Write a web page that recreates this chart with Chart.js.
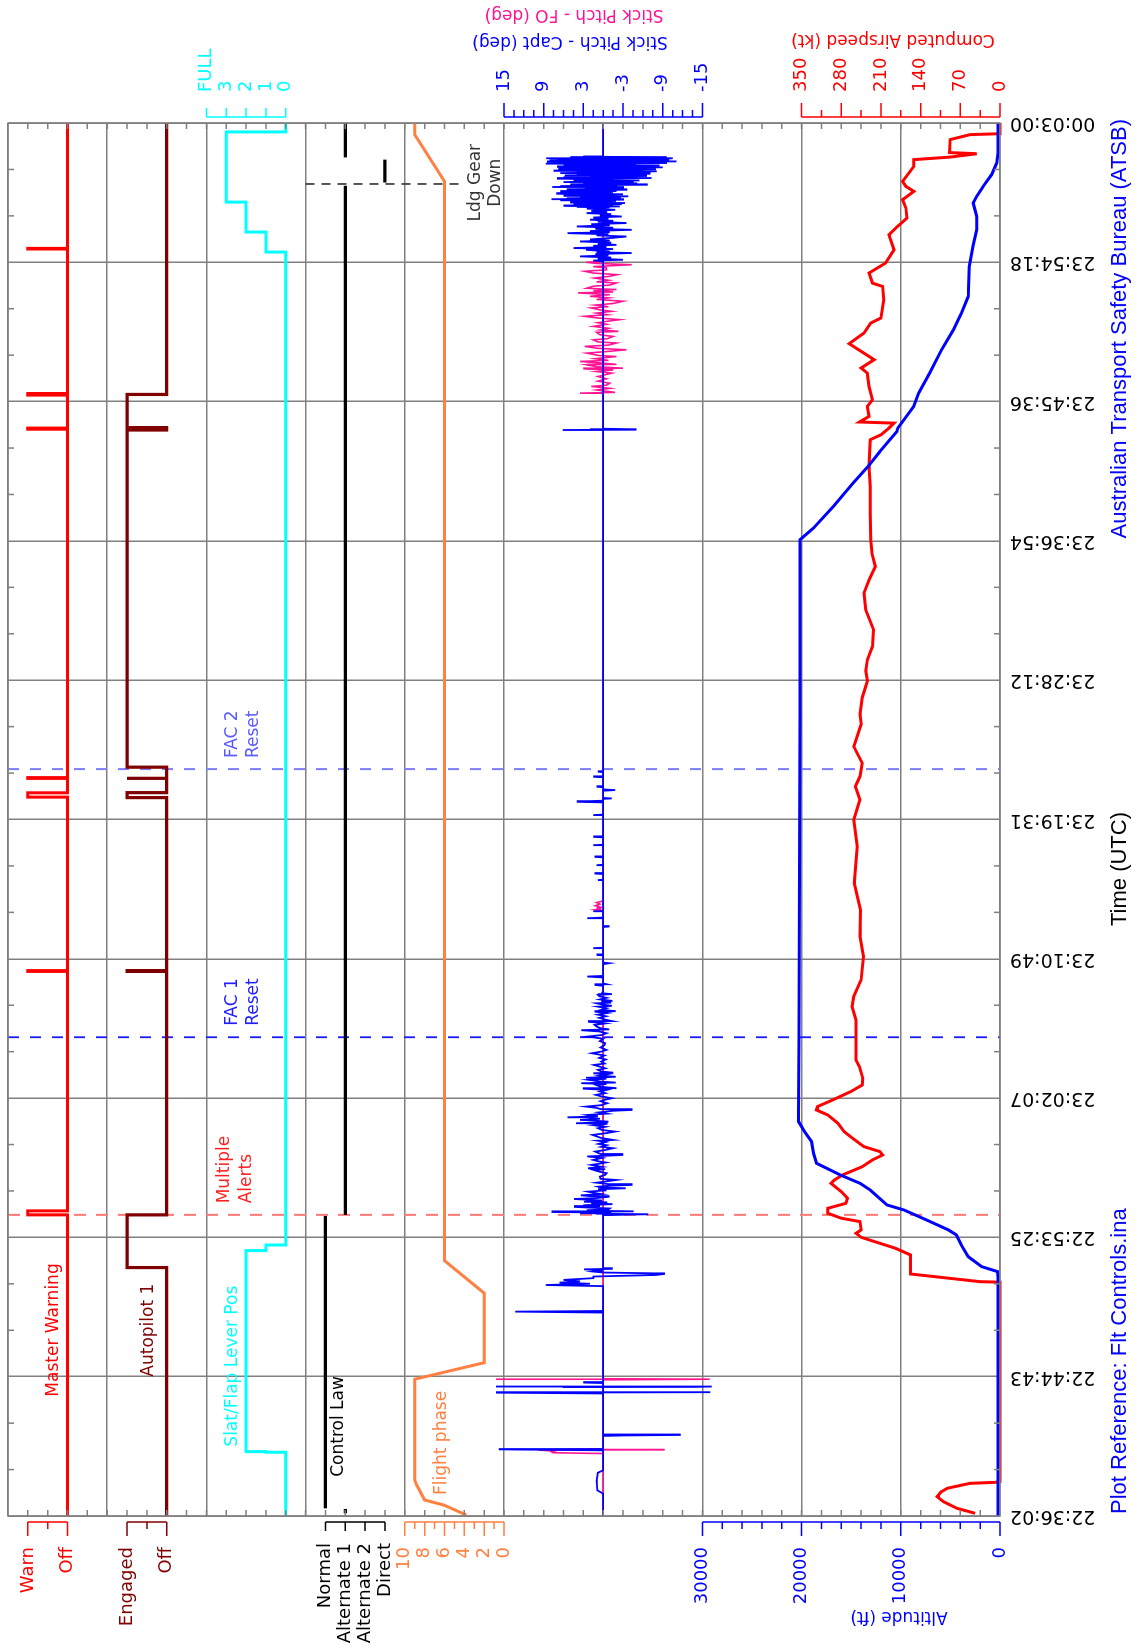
<!DOCTYPE html>
<html>
<head>
<meta charset="utf-8">
<title>Flt Controls</title>
<script src="https://cdn.jsdelivr.net/npm/chart.js@4.4.1/dist/chart.umd.min.js"></script>
<style>
  html, body { margin: 0; padding: 0; background: #fff; }
  body { width: 1138px; height: 1650px; overflow: hidden; position: relative; }
  /* the plot is laid out landscape and turned a quarter turn, like the printed page */
  #wrap { position: absolute; left: 0; top: 0; width: 1650px; height: 1138px;
          transform-origin: 0 0; transform: translate(0, 1650px) rotate(-90deg); }
</style>
</head>
<body>
<div id="wrap"><canvas id="fdrChart"></canvas></div>
<script>
// time is in minutes after 22:36:02
var timeLabels = ['22:36:02', '22:44:43', '22:53:25', '23:02:07', '23:10:49', '23:19:31',
                  '23:28:12', '23:36:54', '23:45:36', '23:54:18', '00:03:00'];
var timeSpan = 86.967;

var mwLabels = ['Off', 'Warn'];
var apLabels = ['Off', 'Engaged'];
var lawLabels = ['Normal', 'Alternate 1', 'Alternate 2', 'Direct'];
var slatLabels = ['0', '1', '2', '3', 'FULL'];
var phaseTicks = [0, 2, 4, 6, 8, 10];
var altTicks = [0, 10000, 20000, 30000];
var stickTicks = [15, 9, 3, -3, -9, -15];
var speedTicks = [0, 70, 140, 210, 280, 350];

// event markers: multiple alerts, FAC 1 reset, FAC 2 reset, landing gear down
var eventTimes = [18.80, 29.89, 46.63, 83.16];

var masterWarning = [[0, 0], [18.80, 0], [18.80, 1], [19.05, 1], [19.05, 0], [34.0, 0], [34.0, 1], [34.05, 1], [34.05, 0],
  [44.88, 0], [44.88, 1], [45.15, 1], [45.15, 0], [46.05, 0], [46.05, 1], [46.1, 1], [46.1, 0],
  [67.85, 0], [67.85, 1], [67.92, 1], [67.92, 0], [69.98, 0], [69.98, 1], [70.08, 1], [70.08, 0],
  [79.1, 0], [79.1, 1], [79.14, 1], [79.14, 0], [86.967, 0]];

var autopilot1 = [[0, 0], [15.51, 0], [15.51, 1], [18.80, 1], [18.80, 0], [34.0, 0], [34.0, 1], [34.05, 1], [34.05, 0],
  [44.85, 0], [44.85, 1], [45.16, 1], [45.16, 0], [46.02, 0], [46.02, 1], [46.07, 1], [46.07, 0],
  [46.75, 0], [46.75, 1], [67.8, 1], [67.8, 0], [67.95, 0], [67.95, 1], [70.02, 1], [70.02, 0], [86.967, 0]];

var slatFlap = [[0, 0], [3.98, 0], [3.98, 1], [4.02, 1], [4.02, 2], [16.57, 2], [16.57, 1], [16.92, 1], [16.92, 0],
  [78.91, 0], [78.91, 1], [80.16, 1], [80.16, 2], [82.03, 2], [82.03, 3], [86.41, 3], [86.41, 0], [86.967, 0]];

var controlLaw = [[0.17, 1], [0.44, 1], [0.46, null], [0.48, 0], [18.73, 0], [18.76, null], [18.80, 1], [83.05, 1],
  [83.15, null], [83.25, 3], [84.68, 3], [84.75, null], [84.82, 1], [86.967, 1]];

var flightPhase = [[0.06, 3.8], [0.69, 6.1], [1.0, 8.0], [1.94, 8.8], [2.25, 9.0], [8.54, 9.0], [9.57, 2.0],
  [13.91, 2.0], [15.94, 6.0], [83.32, 6.0], [86.24, 9.0], [86.967, 9.0]];

var stickCapt = [[0, 0], [1.4, 0], [1.6, 0.9], [2.2, 1.0], [2.7, 0.8], [2.85, 0],
  [4.1, 0], [4.16, 15.8], [4.18, 0], [5.0, 0], [5.03, -3.5], [5.06, -11.6], [5.08, -3.5], [5.1, 0],
  [7.65, 0], [7.7, 16.2], [7.72, -16.2], [7.74, 0], [8.0, 0], [8.05, 6.1], [8.06, -13.9], [8.07, 16.2], [8.08, -16.4], [8.1, 0],
  [8.3, 0], [8.33, 3.0], [8.36, 0], [12.7, 0], [12.76, 13.3], [12.8, 0],
  [14.35, 0], [14.42, 8.7], [14.5, 2], [14.57, 6.6], [14.65, 3.5], [14.74, 6.0], [14.85, 1.5], [14.95, 1.5],
  [15.05, -8.0], [15.11, -9.2], [15.15, -8.0], [15.2, 0], [15.26, 1.5], [15.33, 0], [15.4, 2.9], [15.43, -1.3], [15.47, 0],
  [18.78, 0], [18.84, -6.8], [18.87, 1.0], [18.90, 3.5], [18.94, -1.2], [18.98, 7.8], [19.02, -4.6], [19.06, 1.5],
  [19.09, 2.5], [19.14, -0.8], [19.20, -1.0], [19.25, 2.0], [19.30, 4.4], [19.35, 0.5], [19.40, 3.0], [19.47, -1.4],
  [19.53, 1.8], [19.58, -0.6], [19.62, 2.9], [19.70, 0.2], [19.79, 4.4], [19.85, 1.0], [19.93, -0.8], [19.97, 2.0],
  [20.02, 3.4], [20.1, 0.3], [20.18, 1.5], [20.25, 2.3], [20.33, -0.5], [20.40, 0.8], [20.46, -3.4], [20.51, 0.4],
  [20.56, 0.8], [20.62, -1.0], [20.67, -4.3], [20.72, -0.8], [20.81, 1.0], [20.9, -0.6], [20.98, -2.0], [21.05, 0.4],
  [21.19, 0.5], [21.3, -0.3], [21.40, -0.5], [21.5, 0.6], [21.6, 1.4], [21.65, -0.3], [21.71, 2.3], [21.8, 0.2],
  [21.92, 1.8], [22.0, 0.5], [22.07, -0.4], [22.15, 0.8], [22.23, 1.5], [22.35, 0.2], [22.45, 2.4], [22.50, -0.8],
  [22.54, -2.9], [22.6, 0.4], [22.75, 1.2], [22.85, -0.3], [22.96, -1.5], [23.05, 0.3], [23.15, -0.5], [23.23, 0.7],
  [23.35, -0.4], [23.43, 0.8], [23.48, -1.5], [23.6, 0.3], [23.79, 1.6], [23.9, -0.4], [24.0, -1.8], [24.1, 0.2],
  [24.21, 0.8], [24.3, -0.3], [24.4, 1.5], [24.48, -0.5], [24.52, 4.1], [24.57, 0.5], [24.62, -0.8], [24.68, 1.2],
  [24.73, 3.5], [24.8, 0.5], [24.85, 2.0], [24.89, 5.4], [24.95, 0.8], [25.04, 2.3], [25.12, -0.5], [25.2, 0.6],
  [25.3, -1.5], [25.35, -4.3], [25.4, 0.4], [25.48, 1.0], [25.56, 2.6], [25.65, 0.3], [25.77, -0.6], [25.9, 0.4],
  [26.0, -0.4], [26.08, -1.3], [26.2, 0.3], [26.29, 1.1], [26.4, -0.3], [26.5, 0.5], [26.6, -0.5], [26.68, 3.1],
  [26.71, -2.0], [26.8, 0.4], [26.9, 1.0], [26.97, -0.5], [27.02, 3.3], [27.06, -1.9], [27.12, 0.4], [27.23, 2.2],
  [27.3, -0.5], [27.36, 2.6], [27.42, -1.9], [27.5, 0.5], [27.58, -0.6], [27.64, 1.5], [27.68, -1.5], [27.75, 0.3],
  [27.85, 0.8], [27.95, -0.3], [28.05, 0.5], [28.16, 1.4], [28.25, -0.2], [28.37, 0.3], [28.5, -0.4], [28.6, 0.6],
  [28.75, -0.2], [28.89, 1.7], [29.0, 0.2], [29.10, -0.5], [29.25, 0.4], [29.4, -0.2], [29.52, -0.3], [29.65, 0.5],
  [29.8, 0.0], [29.93, 2.4], [30.03, 0.2], [30.14, -0.5], [30.25, 0.6], [30.33, 3.3], [30.38, -0.9], [30.45, 0.4],
  [30.56, 1.0], [30.66, 1.3], [30.75, -0.3], [30.86, 2.3], [30.9, -1.3], [30.97, -0.5], [31.1, 0.6], [31.2, -0.4],
  [31.3, 0.8], [31.4, -0.6], [31.49, 1.3], [31.52, -1.9], [31.6, 0.3], [31.7, -0.5], [31.8, 0.8], [31.85, -1.3],
  [31.95, 0.4], [32.01, 1.0], [32.05, -1.2], [32.12, 0.3], [32.16, -1.4], [32.25, 0.5], [32.35, -0.5], [32.45, 0.6],
  [32.54, 0.8], [32.58, -1.3], [32.64, 0.2], [32.75, 0],
  [33.1, 0], [33.16, 1.3], [33.2, -0.5], [33.25, 0], [33.62, 0], [33.68, 2.4], [33.72, 0], [34.45, 0], [34.51, -0.9], [34.55, 0],
  [35.0, 0], [35.03, 1.0], [35.06, 0], [35.42, 0], [35.45, 1.5], [35.48, 0], [36.77, 0], [36.8, -0.8], [36.83, 0],
  [37.28, 0], [37.32, 2.4], [37.36, 0], [37.71, 0], [37.74, 1.5], [37.77, 0], [39.67, 0], [39.7, 0.8], [39.73, 0],
  [40.08, 0], [40.11, 1.3], [40.14, 0], [40.6, 0], [40.63, 1.0], [40.66, 0], [41.12, 0], [41.15, 1.3], [41.18, 0],
  [41.85, 0], [41.88, 1.5], [41.91, 0], [42.37, 0], [42.4, 1.5], [42.43, 0], [43.73, 0], [43.76, 1.5], [43.79, 0],
  [44.55, 0], [44.59, 4.0], [44.63, 2.0], [44.66, 0], [44.77, 0], [44.8, -1.3], [44.83, 0], [45.28, 0], [45.32, -1.8],
  [45.36, 0], [45.5, 0], [45.53, 1.0], [45.56, 0], [46.12, 0], [46.15, 1.5], [46.18, 0], [46.44, 0], [46.47, 0.8], [46.5, 0],
  [67.78, 0], [67.80, 6.1], [67.82, -4.9], [67.84, 2.0], [67.86, -4.0], [67.88, 0],
  [78.33, 0], [78.38, 1.5], [78.43, -3.0], [78.5, 0.8], [78.57, -1.2], [78.64, 3.5], [78.7, -0.8], [78.78, 1.2],
  [78.85, -4.3], [78.9, 1.0], [78.95, -1.0], [79.05, 2.6], [79.1, -1.5], [79.16, 4.5], [79.22, -0.5], [79.3, 1.5],
  [79.36, -2.0], [79.42, 0.8], [79.5, -1.2], [79.57, 3.5], [79.63, -1.0], [79.7, 2.0], [79.8, -1.5], [79.88, -3.5],
  [79.95, 1.0], [80.02, -0.8], [80.09, 5.4], [80.15, -1.0], [80.22, 2.0], [80.3, -4.3], [80.36, 1.2], [80.43, -1.5],
  [80.51, 4.0], [80.58, -1.0], [80.65, 1.8], [80.72, -3.5], [80.8, 0.8], [80.86, -1.5], [80.93, 2.0], [81.0, -0.8],
  [81.07, 1.5], [81.13, -2.8], [81.2, 0.5], [81.28, -1.2], [81.34, 2.5], [81.4, -0.6], [81.48, 1.8], [81.55, -1.8],
  [81.62, 2.5], [81.7, -1.0], [81.73, 4.0], [81.76, -2.5], [81.79, 6.0], [81.82, -1.5], [81.86, 4.5], [81.9, -2.8],
  [81.93, 3.0], [81.97, -3.3], [82.0, 5.0], [82.03, -1.2], [82.06, 2.0], [82.1, -1.8], [82.14, 6.5], [82.18, -3.0],
  [82.21, 7.8], [82.24, -1.0], [82.27, 5.5], [82.3, -2.5], [82.34, 3.5], [82.39, -3.8], [82.42, 6.0], [82.45, -1.0],
  [82.48, 2.5], [82.52, -3.0], [82.55, 7.1], [82.59, -1.5], [82.62, 5.0], [82.65, -1.2], [82.69, 6.5], [82.72, -2.0],
  [82.76, 4.0], [82.8, -3.5], [82.83, 5.5], [82.86, -1.5], [82.9, 2.8], [82.93, -3.0], [82.97, 7.7], [83.01, -2.0],
  [83.03, 6.5], [83.06, -1.0], [83.09, 4.0], [83.11, -6.6], [83.14, 5.0], [83.17, -5.0], [83.2, 3.0], [83.24, -4.5],
  [83.28, 6.0], [83.32, -2.5], [83.35, 4.5], [83.38, -5.5], [83.42, 3.5], [83.45, -1.5], [83.49, 7.0], [83.53, -7.3],
  [83.55, 6.0], [83.58, -5.0], [83.62, 2.0], [83.66, -6.5], [83.7, 5.8], [83.74, -3.0], [83.77, 4.0], [83.8, -7.0],
  [83.84, 6.5], [83.88, -2.0], [83.91, 4.0], [83.95, -8.1], [83.98, 7.5], [84.0, -6.0], [84.04, 3.0], [84.08, -8.0],
  [84.11, 6.8], [84.15, -4.0], [84.18, 5.0], [84.2, -9.0], [84.23, 7.0], [84.26, -7.6], [84.29, 4.0], [84.32, -8.5],
  [84.36, 6.0], [84.4, -5.0], [84.43, 8.7], [84.47, -9.5], [84.5, 7.5], [84.52, -3.0], [84.55, 8.5], [84.57, -11.1],
  [84.6, 5.0], [84.63, -10.0], [84.65, 8.1], [84.68, -4.0], [84.7, 7.0], [84.72, -8.0], [84.75, 8.6], [84.78, -10.5],
  [84.8, 5.0], [84.84, -9.6], [84.86, 3.0], [84.88, 0], [86.967, 0]];

var stickFO = [[0, 0], [3.9, 0], [3.95, 7.6], [4.0, 7.8], [4.05, 7.4], [4.12, 9.8], [4.13, -9.2], [4.15, 7.5], [4.2, 0],
  [8.5, 0], [8.53, 16.2], [8.55, -16.1], [8.57, 0],
  [37.8, 0], [37.85, 1.2], [37.9, 0.4], [37.95, 1.0], [38.0, 0.3], [38.1, 1.2], [38.2, 0.5], [38.3, 1.0], [38.4, 0],
  [70.05, 0], [70.1, 3.5], [70.15, -1.8], [70.3, 1.0], [70.4, -1.0], [70.52, 1.8], [70.6, -0.5], [70.72, -1.0],
  [70.85, 0.8], [71.0, -0.5], [71.14, 0.8], [71.25, -0.3], [71.35, -1.3], [71.45, 1.0], [71.55, -1.5], [71.62, 3.0],
  [71.66, -3.0], [71.75, 1.0], [71.87, 2.5], [71.9, -2.0], [72.0, 0.8], [72.08, 3.5], [72.15, -0.8], [72.25, 1.2],
  [72.39, -2.0], [72.45, 0.6], [72.6, 2.5], [72.7, -0.5], [72.81, -3.5], [72.9, 0.8], [73.02, 2.8], [73.1, -0.8],
  [73.23, -2.0], [73.3, 0.8], [73.43, 1.5], [73.5, -0.6], [73.64, -1.5], [73.75, 0.5], [73.9, 1.0], [73.96, -2.3],
  [74.05, 0.4], [74.15, -0.8], [74.27, 1.5], [74.4, -0.5], [74.5, 0.8], [74.6, -0.8], [74.69, -2.5], [74.8, 1.0],
  [74.9, 2.8], [75.0, -0.6], [75.1, 1.0], [75.21, -1.3], [75.3, 0.5], [75.42, 1.8], [75.5, -0.8], [75.6, 1.2],
  [75.7, -1.5], [75.84, -3.0], [75.95, 1.0], [76.05, -0.8], [76.15, 2.0], [76.25, -1.0], [76.36, 3.8], [76.42, -1.5],
  [76.5, 1.5], [76.57, -2.0], [76.65, 2.5], [76.78, 1.5], [76.85, -1.0], [76.98, -2.0], [77.05, 1.0], [77.15, -0.8],
  [77.29, 1.3], [77.4, -1.0], [77.5, -2.1], [77.6, 1.5], [77.71, 2.8], [77.8, -0.5], [77.92, -0.5], [78.0, 1.5],
  [78.12, -4.3], [78.2, 1.0], [78.27, 2.6], [78.33, 0], [86.967, 0]];

var altitude = [[0, 200], [14.9, 200], [15.26, 250], [15.57, 1850], [16.19, 3200], [16.92, 3900], [17.55, 4400],
  [17.86, 5200], [18.48, 7400], [19.11, 9700], [19.42, 11400], [20.36, 13100], [20.77, 14100], [21.29, 16100],
  [22.02, 18500], [22.65, 18800], [23.38, 19000], [24.0, 19700], [24.62, 20300], [25.14, 20300], [30.0, 20250],
  [40.0, 20200], [50.0, 20150], [60.95, 20150], [61.68, 18800], [63.03, 16800], [64.49, 14800], [65.53, 13300],
  [66.46, 12100], [67.71, 10400], [67.92, 10300], [69.27, 8700], [70.1, 8200], [71.35, 7100], [72.8, 5900],
  [74.05, 4700], [75.09, 3900], [76.13, 3200], [78.01, 3100], [79.36, 2700], [80.3, 2350], [81.13, 2350],
  [81.97, 2700], [82.39, 2350], [83.01, 1700], [83.74, 850], [84.47, 330], [85.09, 200], [86.967, 200]];

var airspeed = [[0.17, 44], [0.48, 76], [0.9, 100], [1.21, 111], [1.5, 104], [1.73, 93], [2.04, 53], [2.1, 9], [2.15, 0],
  [14.6, 0], [14.63, 35], [15.11, 158], [15.78, 158], [16.3, 158], [16.71, 184], [17.4, 245], [17.65, 254], [17.86, 245],
  [18.38, 247], [18.59, 280], [18.9, 304], [19.21, 304], [19.52, 272], [19.84, 269], [20.25, 280], [20.77, 298],
  [20.98, 292], [21.29, 278], [21.81, 243], [22.23, 225], [22.54, 207], [22.75, 212], [23.06, 240], [23.58, 260],
  [24.0, 275], [24.52, 286], [25.04, 304], [25.35, 324], [25.56, 322], [25.98, 295], [26.5, 263], [26.91, 243],
  [27.33, 242], [28.06, 248], [28.47, 254], [29.93, 254], [30.97, 254], [31.8, 261], [32.43, 258], [33.47, 245],
  [34.93, 241], [36.18, 247], [37.84, 246], [39.5, 257], [41.8, 252], [43.47, 258], [44.72, 247], [45.55, 255],
  [46.17, 247], [47.0, 243], [48.04, 258], [49.44, 245], [50.06, 247], [51.1, 243], [52.14, 234], [52.76, 237],
  [53.45, 234], [54.29, 225], [55.33, 223], [56.58, 237], [57.62, 240], [58.45, 231], [59.28, 220], [60.11, 226],
  [60.94, 228], [62.61, 229], [64.28, 229], [65.53, 231], [67.19, 229], [67.5, 210], [67.92, 196], [68.23, 187],
  [68.3, 248], [68.65, 231], [69.27, 234], [69.69, 225], [70.52, 231], [71.35, 234], [71.67, 245], [72.19, 222],
  [73.19, 266], [73.85, 240], [74.48, 228], [74.79, 210], [75.93, 205], [76.76, 207], [76.97, 225], [77.6, 231],
  [78.22, 202], [79.05, 187], [79.99, 196], [80.51, 181], [81.03, 164], [81.66, 166], [82.18, 172], [82.7, 152],
  [83.01, 166], [83.32, 172], [84.26, 152], [84.68, 152], [84.84, 88], [85.05, 41], [85.12, 89], [85.93, 88],
  [86.24, 53], [86.3, 0], [86.967, 0]];

Chart.defaults.font.family = "'DejaVu Sans', sans-serif";
Chart.defaults.font.size = 18;
Chart.defaults.color = '#000';

var GRID = '#808080';
var LEFT_W = 134, RIGHT_W = 123, BOTTOM_H = 138;

function pts(arr) {
  return arr.map(function (p) { return { x: p[0], y: p[1] }; });
}

function steps(lo, hi, step) {
  var out = [];
  for (var v = lo; v <= hi + 1e-9; v += step) out.push(Math.round(v * 1000) / 1000);
  return out;
}

function fixWidth(w) {
  return function (s) {
    s.width = w;
    s.paddingTop = 0; s.paddingBottom = 0; s.paddingLeft = 0; s.paddingRight = 0;
  };
}

// spacer axes so each bracket sits in its own slice of the plot height (50 slices)
function gapAxis(pos, weight, units) {
  return { type: 'linear', display: false, position: pos, stack: pos, stackWeight: units, weight: weight,
           min: 0, max: 1, afterFit: fixWidth(pos === 'left' ? LEFT_W : RIGHT_W) };
}

function panelAxis(pos, weight, units, min, max, major, labels, minorStep, color, extra) {
  var vals = minorStep ? steps(min, max, minorStep) : major.slice();
  var ax = {
    type: 'linear', position: pos, stack: pos, stackWeight: units, weight: weight,
    min: min, max: max,
    grid: { display: false },
    border: { display: false },
    afterBuildTicks: function (s) {
      s.ticks = vals.map(function (v) { return { value: v }; });
    },
    afterFit: fixWidth(pos === 'left' ? LEFT_W : RIGHT_W),
    ticks: {
      autoSkip: false, color: color, padding: 23, font: { size: 18 },
      callback: function (v) {
        var i = major.indexOf(v);
        return i < 0 ? '' : labels[i];
      }
    }
  };
  return Object.assign(ax, extra || {});
}

function series(data, axis, color, width, extra) {
  var ds = { data: pts(data), xAxisID: 'x', yAxisID: axis, borderColor: color, borderWidth: width,
             pointRadius: 0, tension: 0, fill: false, spanGaps: false, clip: false };
  return Object.assign(ds, extra || {});
}

function eventLine(t, r0, r1, color, dash, width) {
  return series([[t, r0], [t, r1]], 'g', color, width, { borderDash: dash });
}

var brackets = [
  { id: 'mw', color: '#ff0000', major: 14, minor: 7 },
  { id: 'ap', color: '#800000', major: 14, minor: 7 },
  { id: 'law', color: '#000000', major: 9, minor: 9 },
  { id: 'phase', color: '#ff8040', major: 14, minor: 7 },
  { id: 'alt', color: '#0000ff', major: 14, minor: 7 },
  { id: 'slat', color: '#00ffff', major: 9, minor: 9 },
  { id: 'stick', color: '#0000ff', major: 14, minor: 7 },
  { id: 'spd', color: '#ff0000', major: 14, minor: 7 }
];

// text inside the plot: t = minutes, r = slice (0..50) of the plot height for the baseline
var notes = [
  { text: 'Master Warning', t: 7.45, r: 2.52, color: '#ff0000' },
  { text: 'Autopilot 1', t: 8.70, r: 7.33, color: '#800000' },
  { text: 'Slat/Flap Lever Pos', t: 4.33, r: 11.52, color: '#00ffff' },
  { text: 'Control Law', t: 2.45, r: 16.88, color: '#000000' },
  { text: 'Flight phase', t: 1.31, r: 22.1, color: '#ff8040' },
  { text: 'Multiple', t: 19.52, r: 11.16, color: '#ff2020' },
  { text: 'Alerts', t: 19.52, r: 12.27, color: '#ff2020' },
  { text: 'FAC 1', t: 30.6, r: 11.54, color: '#2020ff' },
  { text: 'Reset', t: 30.6, r: 12.6, color: '#2020ff' },
  { text: 'FAC 2', t: 47.32, r: 11.54, color: '#5a5aff' },
  { text: 'Reset', t: 47.32, r: 12.6, color: '#5a5aff' },
  { text: 'Ldg Gear', t: 83.24, r: 23.77, color: '#333333', align: 'center' },
  { text: 'Down', t: 83.24, r: 24.8, color: '#333333', align: 'center' }
];

var titles = [
  { text: 'Altitude (ft)', x: 34, y: 899, rot: true, color: '#0000ff', font: "17px 'DejaVu Sans'" },
  { text: 'Computed Airspeed (kt)', x: 1611, y: 893, rot: true, color: '#ff0000', font: "17px 'DejaVu Sans'" },
  { text: 'Stick Pitch - Capt (deg)', x: 1609, y: 570, rot: true, color: '#0000ff', font: "17px 'DejaVu Sans'" },
  { text: 'Stick Pitch - FO (deg)', x: 1636, y: 574, rot: true, color: '#ff1493', font: "17px 'DejaVu Sans'" },
  { text: 'Plot Reference: Flt Controls.ina', x: 136, y: 1126, align: 'left', color: '#0000ff', font: "22px 'Liberation Sans'" },
  { text: 'Time (UTC)', x: 781, y: 1126, align: 'center', color: '#000000', font: "22px 'Liberation Sans'" },
  { text: 'Australian Transport Safety Bureau (ATSB)', x: 1531, y: 1126, align: 'right', color: '#0000ff', font: "22px 'Liberation Sans'" }
];

var decorations = {
  id: 'decorations',
  afterDatasetsDraw: function (chart) {
    var ctx = chart.ctx, a = chart.chartArea, xs = chart.scales.x, g = chart.scales.g;
    ctx.save();
    // frame with small inward ticks
    ctx.strokeStyle = GRID;
    ctx.lineWidth = 1.5;
    ctx.strokeRect(a.left, a.top, a.right - a.left, a.bottom - a.top);
    ctx.beginPath();
    for (var i = 1; i < 50; i++) {
      var y = g.getPixelForValue(i);
      ctx.moveTo(a.left, y); ctx.lineTo(a.left + 6, y);
      ctx.moveTo(a.right, y); ctx.lineTo(a.right - 6, y);
    }
    for (var j = 1; j < 30; j++) {
      if (j % 3 === 0) continue;
      var x = xs.getPixelForValue(j * timeSpan / 30);
      ctx.moveTo(x, a.top); ctx.lineTo(x, a.top + 6);
      ctx.moveTo(x, a.bottom); ctx.lineTo(x, a.bottom - 6);
    }
    ctx.stroke();

    // labels inside the plot
    ctx.font = "17px 'DejaVu Sans'";
    ctx.textBaseline = 'alphabetic';
    notes.forEach(function (n) {
      ctx.fillStyle = n.color;
      ctx.textAlign = n.align || 'left';
      ctx.fillText(n.text, xs.getPixelForValue(n.t), g.getPixelForValue(n.r));
    });
    ctx.restore();
  },
  afterDraw: function (chart) {
    var ctx = chart.ctx, a = chart.chartArea;
    ctx.save();
    // axis brackets, set a little outside the frame
    ctx.lineWidth = 1.5;
    brackets.forEach(function (b) {
      var s = chart.scales[b.id];
      var left = s.position === 'left';
      var x0 = left ? a.left - 6 : a.right + 6;
      var dir = left ? -1 : 1;
      ctx.strokeStyle = b.color;
      ctx.beginPath();
      ctx.moveTo(x0, s.getPixelForValue(s.min));
      ctx.lineTo(x0, s.getPixelForValue(s.max));
      s.ticks.forEach(function (t) {
        var y = s.getPixelForValue(t.value);
        var len = t.label ? b.major : b.minor;
        ctx.moveTo(x0, y);
        ctx.lineTo(x0 + dir * len, y);
      });
      ctx.stroke();
    });

    titles.forEach(function (t) {
      ctx.save();
      ctx.font = t.font;
      ctx.fillStyle = t.color;
      if (t.rot) {
        ctx.translate(t.x, t.y);
        ctx.rotate(-Math.PI / 2);
        ctx.textAlign = 'center';
        ctx.textBaseline = 'middle';
        ctx.fillText(t.text, 0, 0);
      } else {
        ctx.textAlign = t.align;
        ctx.textBaseline = 'alphabetic';
        ctx.fillText(t.text, t.x, t.y);
      }
      ctx.restore();
    });
    ctx.restore();
  }
};

var fdrChart = new Chart(document.getElementById('fdrChart'), {
  type: 'line',
  data: {
    datasets: [
      series(stickCapt, 'stick', '#0000ff', 1.8),
      series(stickFO, 'stick', '#ff1493', 1.6),
      series(altitude, 'alt', '#0000ff', 3),
      series(airspeed, 'spd', '#ff0000', 3),
      series(masterWarning, 'mw', '#ff0000', 3),
      series(autopilot1, 'ap', '#800000', 3.2),
      series(slatFlap, 'slat', '#00ffff', 3),
      series(controlLaw, 'law', '#000000', 3.2),
      series(flightPhase, 'phase', '#ff8040', 3),
      eventLine(eventTimes[0], 0, 50, '#ff7878', [12, 10], 2),
      eventLine(eventTimes[1], 0, 50, '#1a1aff', [11, 11], 1.8),
      eventLine(eventTimes[2], 0, 50, '#7c7cff', [11, 11], 2),
      eventLine(eventTimes[3], 15.0, 23.05, '#444444', [9, 7], 1.8)
    ]
  },
  options: {
    responsive: true,
    maintainAspectRatio: false,
    animation: false,
    events: [],
    layout: { padding: { top: 8, left: 0, right: 0, bottom: 0 } },
    plugins: { legend: { display: false }, tooltip: { enabled: false } },
    scales: {
      x: {
        type: 'linear', position: 'bottom', min: 0, max: timeSpan,
        grid: { color: GRID, lineWidth: 1.5, drawTicks: false },
        border: { display: false },
        afterBuildTicks: function (s) {
          s.ticks = timeLabels.map(function (l, i) { return { value: i * timeSpan / (timeLabels.length - 1) }; });
        },
        afterFit: function (s) { s.height = BOTTOM_H; s.paddingLeft = 0; s.paddingRight = 0; },
        ticks: {
          autoSkip: false, maxRotation: 90, minRotation: 90, padding: 10, color: '#000', font: { size: 19 },
          callback: function (v, i) { return timeLabels[i]; }
        }
      },
      g: {
        type: 'linear', position: 'right', weight: 0, min: 0, max: 50, reverse: true,
        grid: { color: GRID, lineWidth: 1.5, drawTicks: false },
        border: { display: false },
        ticks: { display: false },
        afterBuildTicks: function (s) {
          s.ticks = steps(0, 50, 5).map(function (v) { return { value: v }; });
        },
        afterFit: function (s) { s.width = 0; s.paddingTop = 0; s.paddingBottom = 0; }
      },
      gL1: gapAxis('left', 10, 1),
      mw: panelAxis('left', 9, 2, 0, 1, [0, 1], mwLabels, 0.5, '#ff0000'),
      gL2: gapAxis('left', 8, 3),
      ap: panelAxis('left', 7, 2, 0, 1, [0, 1], apLabels, 0.5, '#800000'),
      gL3: gapAxis('left', 6, 8),
      law: panelAxis('left', 5, 3, 0, 3, [0, 1, 2, 3], lawLabels, null, '#000000', { reverse: true }),
      gL4: gapAxis('left', 4, 1),
      phase: panelAxis('left', 3, 5, 0, 10, phaseTicks, phaseTicks.map(String), 1, '#ff8040'),
      gL5: gapAxis('left', 2, 10),
      alt: panelAxis('left', 1, 15, 0, 30000, altTicks, altTicks.map(String), 2000, '#0000ff'),
      gR1: gapAxis('right', 1, 10),
      slat: panelAxis('right', 2, 4, 0, 4, [0, 1, 2, 3, 4], slatLabels, null, '#00ffff'),
      gR2: gapAxis('right', 3, 11),
      stick: panelAxis('right', 4, 10, -15, 15, stickTicks, stickTicks.map(String), 1.5, '#0000ff'),
      gR3: gapAxis('right', 5, 5),
      spd: panelAxis('right', 6, 10, 0, 350, speedTicks, speedTicks.map(String), 35, '#ff0000')
    }
  },
  plugins: [decorations]
});
fdrChart.options.scales.law.ticks.padding = 19;
fdrChart.update();
</script>
</body>
</html>
